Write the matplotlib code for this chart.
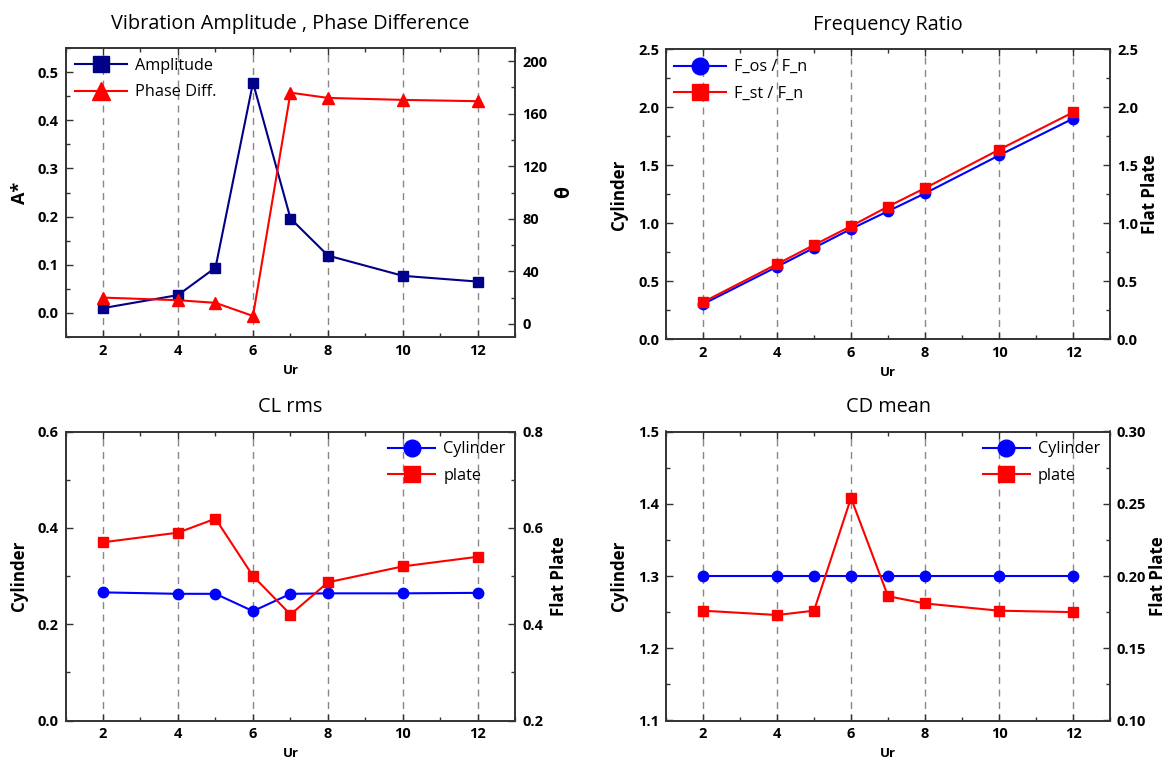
import matplotlib
matplotlib.use("Agg")
import matplotlib.pyplot as plt
from matplotlib.ticker import MultipleLocator, FormatStrFormatter

plt.rcParams['font.family'] = ['Open Sans', 'DejaVu Sans']

# ---- data ----
ur = [2, 4, 5, 6, 7, 8, 10, 12]
x_ticks = [2, 4, 6, 8, 10, 12]

amplitude = [0.010, 0.037, 0.094, 0.478, 0.196, 0.119, 0.077, 0.065]
phase_diff = [20, 18, 16, 6, 176, 172, 170.5, 169.5]

f_os = [0.305, 0.627, 0.790, 0.953, 1.106, 1.260, 1.587, 1.904]
f_st = [0.322, 0.650, 0.815, 0.977, 1.146, 1.305, 1.636, 1.958]

cl_cyl = [0.266, 0.263, 0.263, 0.227, 0.263, 0.264, 0.264, 0.265]
cl_plate = [0.570, 0.590, 0.619, 0.500, 0.420, 0.487, 0.520, 0.540]

cd_cyl = [1.30, 1.30, 1.30, 1.30, 1.30, 1.30, 1.30, 1.30]
cd_plate = [0.176, 0.173, 0.176, 0.254, 0.186, 0.181, 0.176, 0.175]

NAVY = '#000088'
BLUE = '#0000FF'
RED = '#FF0000'
SPINE = '#333333'

TICK_FS = 10.5
LEG_FS = 11.7
TITLE_FS = 14.3
YLAB_FS = 12.2
LW = 1.5

fig = plt.figure(figsize=(11.69, 7.62), dpi=100)

W = 1169.0
H = 762.0
def rect(l, r, t, b):
    return [l / W, 1 - b / H, (r - l) / W, (b - t) / H]

ax1 = fig.add_axes(rect(65.5, 515.5, 48, 337))
ax2 = fig.add_axes(rect(666, 1110, 49.5, 339.5))
ax3 = fig.add_axes(rect(65.5, 515.5, 431.5, 720.5))
ax4 = fig.add_axes(rect(666, 1110, 431.5, 720.5))


def style(ax, twin, ylim_l, ylim_r, maj_l, maj_r, fmt_l, fmt_r):
    ax.set_xlim(1, 13)
    ax.set_xticks(x_ticks)
    ax.xaxis.set_minor_locator(MultipleLocator(1))
    ax.set_ylim(*ylim_l)
    twin.set_ylim(*ylim_r)
    ax.yaxis.set_major_locator(MultipleLocator(maj_l))
    ax.yaxis.set_minor_locator(MultipleLocator(maj_l / 2))
    twin.yaxis.set_major_locator(MultipleLocator(maj_r))
    twin.yaxis.set_minor_locator(MultipleLocator(maj_r / 2))
    ax.yaxis.set_major_formatter(FormatStrFormatter(fmt_l))
    twin.yaxis.set_major_formatter(FormatStrFormatter(fmt_r))
    ax.grid(axis='x', which='major', color='#888888', linestyle=(0, (5, 4)), linewidth=1.0)
    ax.set_axisbelow(True)
    ax.tick_params(axis='x', which='both', direction='in', top=True, bottom=True,
                   labelsize=TICK_FS, pad=5, color=SPINE)
    ax.tick_params(axis='y', which='both', direction='in', left=True, right=False,
                   labelsize=TICK_FS, pad=5, color=SPINE)
    twin.tick_params(axis='y', which='both', direction='in', right=True, left=False,
                     labelsize=TICK_FS, pad=5, color=SPINE)
    for a in (ax, twin):
        a.tick_params(which='major', length=5, width=1)
        a.tick_params(which='minor', length=3, width=1)
        for s in a.spines.values():
            s.set_color(SPINE)
            s.set_linewidth(1.2)
    for lab in ax.get_xticklabels() + ax.get_yticklabels() + twin.get_yticklabels():
        lab.set_fontweight('bold')
    ax.set_xlabel('Ur', fontsize=9.5, fontweight='bold', labelpad=4)


def legend(twin, handles, labels, loc, anchor, hl):
    twin.legend(handles, labels, loc=loc, frameon=False, fontsize=LEG_FS,
                handlelength=hl, markerscale=1.6, labelspacing=0.65,
                borderaxespad=0.2, handletextpad=0.5, bbox_to_anchor=anchor)


# ---- Panel 1 ----
t1 = ax1.twinx()
style(ax1, t1, (-0.05, 0.55), (-10, 210), 0.1, 40, '%.1f', '%d')
l1, = ax1.plot(ur, amplitude, color=NAVY, marker='s', markersize=7, linewidth=LW)
l2, = t1.plot(ur, phase_diff, color=RED, marker='^', markersize=8, linewidth=LW)
ax1.set_ylabel('A*', fontsize=13, fontweight='bold', labelpad=6)
t1.set_ylabel('θ', fontsize=14, fontweight='bold', labelpad=5)
ax1.set_title('Vibration Amplitude , Phase Difference', fontsize=TITLE_FS, pad=14)
legend(t1, [l1, l2], ['Amplitude', 'Phase Diff.'], 'upper left', (0.0, 1.0), 3.2)

# ---- Panel 2 ----
t2 = ax2.twinx()
style(ax2, t2, (0, 2.5), (0, 2.5), 0.5, 0.5, '%.1f', '%.1f')
l3, = ax2.plot(ur, f_os, color=BLUE, marker='o', markersize=7.5, linewidth=LW)
l4, = t2.plot(ur, f_st, color=RED, marker='s', markersize=7.5, linewidth=LW)
ax2.set_ylabel('Cylinder', fontsize=YLAB_FS, fontweight='bold', labelpad=7)
t2.set_ylabel('Flat Plate', fontsize=YLAB_FS, fontweight='bold', labelpad=2)
ax2.set_title('Frequency Ratio', fontsize=TITLE_FS, pad=14)
legend(t2, [l3, l4], ['F_os / F_n', 'F_st / F_n'], 'upper left', (-0.005, 1.0), 3.2)

# ---- Panel 3 ----
t3 = ax3.twinx()
style(ax3, t3, (0.0, 0.6), (0.2, 0.8), 0.2, 0.2, '%.1f', '%.1f')
l5, = ax3.plot(ur, cl_cyl, color=BLUE, marker='o', markersize=7.5, linewidth=LW)
l6, = t3.plot(ur, cl_plate, color=RED, marker='s', markersize=7.5, linewidth=LW)
ax3.set_ylabel('Cylinder', fontsize=YLAB_FS, fontweight='bold', labelpad=7)
t3.set_ylabel('Flat Plate', fontsize=YLAB_FS, fontweight='bold', labelpad=5)
ax3.set_title('CL rms', fontsize=TITLE_FS, pad=14)
legend(t3, [l5, l6], ['Cylinder', 'plate'], 'upper right', (1.0, 1.0), 2.9)

# ---- Panel 4 ----
t4 = ax4.twinx()
style(ax4, t4, (1.1, 1.5), (0.10, 0.30), 0.1, 0.05, '%.1f', '%.2f')
l7, = ax4.plot(ur, cd_cyl, color=BLUE, marker='o', markersize=7.5, linewidth=LW)
l8, = t4.plot(ur, cd_plate, color=RED, marker='s', markersize=7.5, linewidth=LW)
ax4.set_ylabel('Cylinder', fontsize=YLAB_FS, fontweight='bold', labelpad=7)
t4.set_ylabel('Flat Plate', fontsize=YLAB_FS, fontweight='bold', labelpad=2)
ax4.set_title('CD mean', fontsize=TITLE_FS, pad=14)
legend(t4, [l7, l8], ['Cylinder', 'plate'], 'upper right', (1.0, 1.0), 2.9)

fig.savefig('out.png', dpi=100)
